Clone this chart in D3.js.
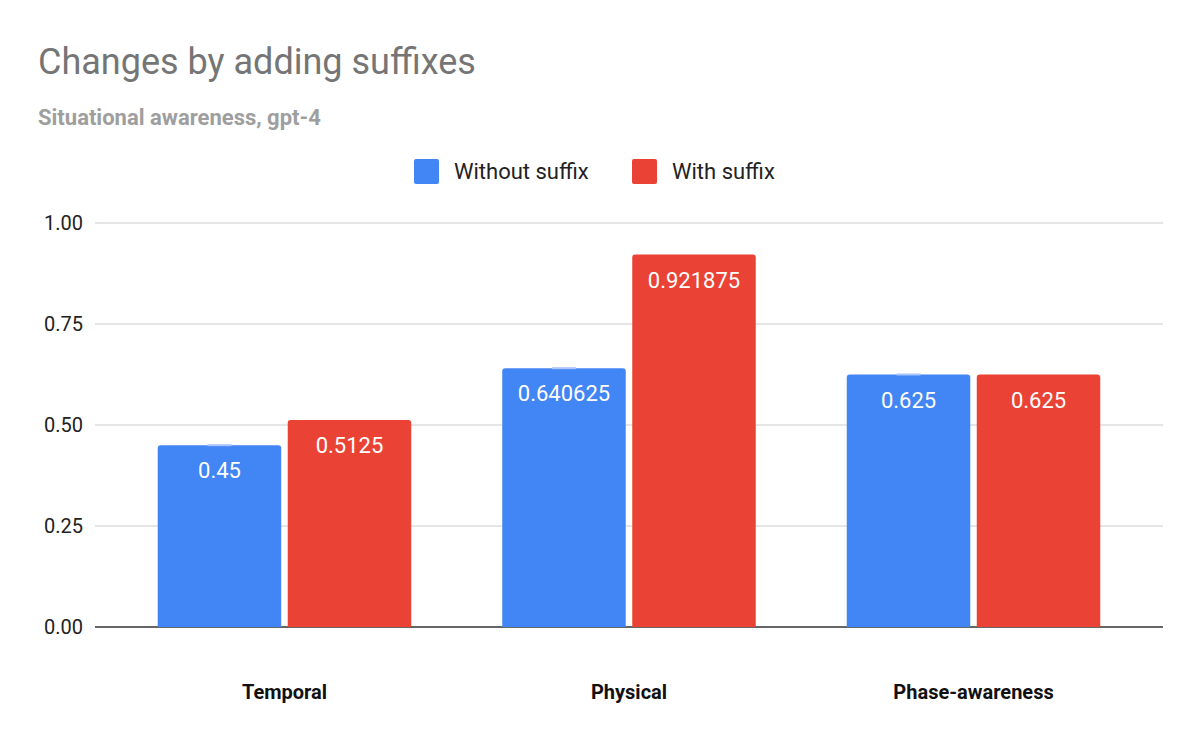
<!DOCTYPE html>
<html>
<head>
<meta charset="utf-8">
<style>
  body { margin: 0; background: #fff; font-family: Roboto, Arial, sans-serif; }
</style>
</head>
<body>
<script src="https://d3js.org/d3.v7.min.js"></script>
<script>
// data
var categories = ["Temporal", "Physical", "Phase-awareness"];
var seriesNames = ["Without suffix", "With suffix"];
var withoutSuffix = [0.45, 0.640625, 0.625];
var withSuffix = [0.5125, 0.921875, 0.625];
var yTicks = [0, 0.25, 0.5, 0.75, 1];
var colors = ["#4285f4", "#ea4335"];

var width = 1200, height = 742;
var margin = {top: 223, right: 37, bottom: 115, left: 95};

var svg = d3.select("body").append("svg")
    .attr("width", width)
    .attr("height", height);

svg.append("text").attr("x", 38).attr("y", 74)
    .attr("font-size", 36).attr("fill", "#757575")
    .text("Changes by adding suffixes");
svg.append("text").attr("x", 38).attr("y", 125)
    .attr("font-size", 22).attr("font-weight", "bold").attr("fill", "#9e9e9e")
    .text("Situational awareness, gpt-4");

// legend
var legendX = [414, 632];
seriesNames.forEach(function(name, i) {
  svg.append("rect").attr("x", legendX[i]).attr("y", 159).attr("width", 25).attr("height", 25)
      .attr("rx", 2).attr("fill", colors[i]);
  svg.append("text").attr("x", legendX[i] + 40).attr("y", 179)
      .attr("font-size", 22).attr("fill", "#222").text(name);
});

var g = svg.append("g").attr("transform", "translate(" + margin.left + "," + margin.top + ")");
var w = width - margin.left - margin.right,
    h = height - margin.top - margin.bottom;

var x = d3.scaleBand().domain(categories).range([0, w]).paddingInner(0).paddingOuter(0.05);
var xs = d3.scaleBand().domain(d3.range(2)).range([0, x.bandwidth()]).paddingOuter(0.35).paddingInner(0.05);
var y = d3.scaleLinear().domain([0, 1]).range([h, 0]);

g.selectAll(".grid").data(yTicks).enter().append("line")
    .attr("x1", 0).attr("x2", w)
    .attr("y1", function(d) { return y(d); }).attr("y2", function(d) { return y(d); })
    .attr("stroke", function(d) { return d === 0 ? "#333" : "#ccc"; })
    .attr("stroke-width", function(d) { return d === 0 ? 1.5 : 1.2; });

g.selectAll(".ytick").data(yTicks).enter().append("text")
    .attr("x", -12).attr("y", function(d) { return y(d) + 7; })
    .attr("text-anchor", "end").attr("font-size", 20).attr("fill", "#222")
    .text(function(d) { return d.toFixed(2); });

g.selectAll(".xlab").data(categories).enter().append("text")
    .attr("x", function(d) { return x(d) + x.bandwidth() / 2; })
    .attr("y", h + 72).attr("text-anchor", "middle")
    .attr("font-size", 20).attr("font-weight", "bold").attr("fill", "#111")
    .text(function(d) { return d; });

var data = [];
categories.forEach(function(c, ci) {
  data.push({c: c, s: 0, v: withoutSuffix[ci]});
  data.push({c: c, s: 1, v: withSuffix[ci]});
});

var bars = g.selectAll(".bar").data(data).enter().append("g");
bars.append("path")
    .attr("fill", function(d) { return colors[d.s]; })
    .attr("d", function(d) {
      var x0 = x(d.c) + xs(d.s), bw = xs.bandwidth(), y0 = y(d.v), y1 = y(0), r = 3;
      return "M" + x0 + "," + y1 + "V" + (y0 + r) + "Q" + x0 + "," + y0 + " " + (x0 + r) + "," + y0 +
        "H" + (x0 + bw - r) + "Q" + (x0 + bw) + "," + y0 + " " + (x0 + bw) + "," + (y0 + r) + "V" + y1 + "Z";
    });
bars.filter(function(d) { return d.s === 0; }).append("rect")
    .attr("x", function(d) { return x(d.c) + xs(d.s) + xs.bandwidth() / 2 - 12; })
    .attr("y", function(d) { return y(d.v) - 1; })
    .attr("width", 24).attr("height", 2).attr("fill", "#a8c4f8");
bars.append("text")
    .attr("x", function(d) { return x(d.c) + xs(d.s) + xs.bandwidth() / 2; })
    .attr("y", function(d) { return y(d.v) + 33; })
    .attr("text-anchor", "middle").attr("font-size", 22).attr("fill", "#fff")
    .text(function(d) { return String(d.v); });
</script>
</body>
</html>
